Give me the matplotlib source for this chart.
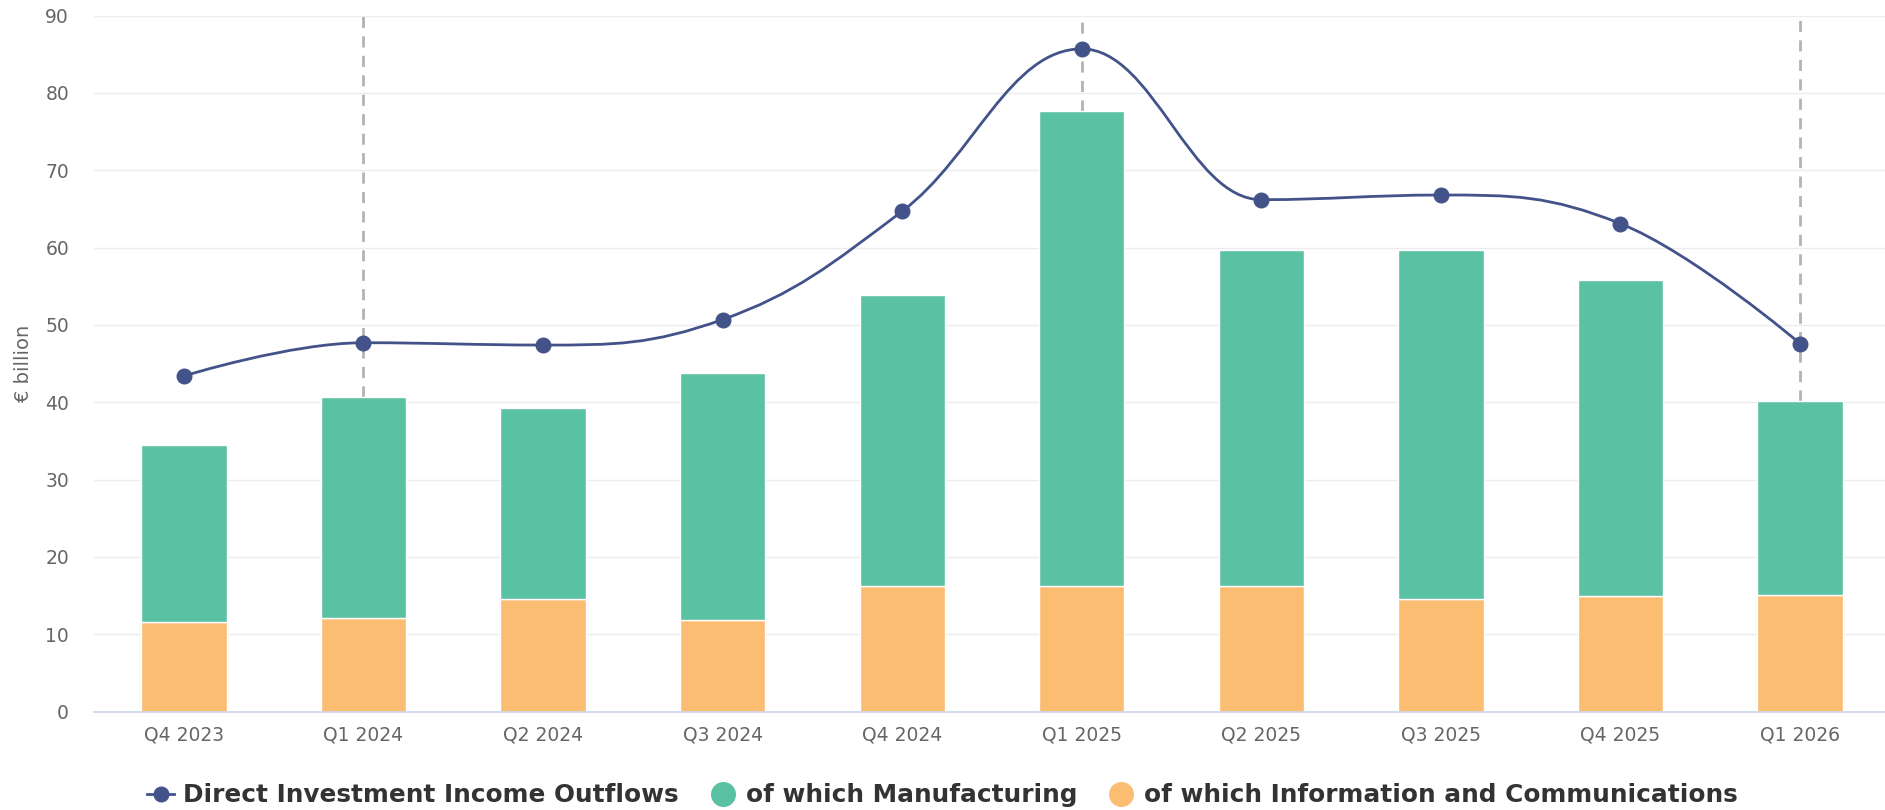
import matplotlib
matplotlib.use("Agg")
import matplotlib.pyplot as plt
from matplotlib.path import Path
from matplotlib.patches import PathPatch
from matplotlib.lines import Line2D
import numpy as np

quarters = ["Q4 2023", "Q1 2024", "Q2 2024", "Q3 2024", "Q4 2024",
            "Q1 2025", "Q2 2025", "Q3 2025", "Q4 2025", "Q1 2026"]
total_outflows = [43.4, 47.7, 47.4, 50.7, 64.7, 85.7, 66.2, 66.8, 63.1, 47.6]
manufacturing = [22.9, 28.6, 24.7, 32.0, 37.6, 61.4, 43.4, 45.2, 40.9, 25.0]
info_comm = [11.6, 12.1, 14.5, 11.8, 16.3, 16.3, 16.3, 14.5, 14.9, 15.1]
year_starts = ["Q1 2024", "Q1 2025", "Q1 2026"]

NAVY = "#43538a"
GREEN = "#5bc1a3"
ORANGE = "#fbbd72"


def spline_path(xs, ys, smoothing=1.5):
    """Smooth curve through the points using neighbour-based Bezier controls."""
    n = len(xs)
    denom = smoothing + 1
    lc = [(x, y) for x, y in zip(xs, ys)]
    rc = [(x, y) for x, y in zip(xs, ys)]
    for i in range(1, n - 1):
        x, y = xs[i], ys[i]
        lx, ly = xs[i - 1], ys[i - 1]
        nx, ny = xs[i + 1], ys[i + 1]
        lcx = (smoothing * x + lx) / denom
        lcy = (smoothing * y + ly) / denom
        rcx = (smoothing * x + nx) / denom
        rcy = (smoothing * y + ny) / denom
        corr = (rcy - lcy) * (rcx - x) / (rcx - lcx) + y - rcy
        lcy += corr
        rcy += corr
        if lcy > ly and lcy > y:
            lcy = max(ly, y)
            rcy = 2 * y - lcy
        elif lcy < ly and lcy < y:
            lcy = min(ly, y)
            rcy = 2 * y - lcy
        if rcy > ny and rcy > y:
            rcy = max(ny, y)
            lcy = 2 * y - rcy
        elif rcy < ny and rcy < y:
            rcy = min(ny, y)
            lcy = 2 * y - rcy
        lc[i] = (lcx, lcy)
        rc[i] = (rcx, rcy)
    verts = [(xs[0], ys[0])]
    codes = [Path.MOVETO]
    for i in range(1, n):
        verts += [rc[i - 1], lc[i], (xs[i], ys[i])]
        codes += [Path.CURVE4] * 3
    return Path(verts, codes)


fig = plt.figure(figsize=(18.85, 8.10), dpi=100)
ax = fig.add_axes([0.0499, 0.1215, 0.9501, 0.8592])

x = np.arange(len(quarters))
bar_w = 0.475

ax.bar(x, info_comm, width=bar_w, color=ORANGE, edgecolor="white",
       linewidth=1.0, zorder=2)
ax.bar(x, manufacturing, width=bar_w, bottom=info_comm, color=GREEN,
       edgecolor="white", linewidth=1.0, zorder=2)

# dashed year markers running from the top of the plot down to the bar top
for q in year_starts:
    i = quarters.index(q)
    top = info_comm[i] + manufacturing[i]
    ax.plot([i, i], [top, 90], color="#b3b3b3", linewidth=2.0,
            linestyle=(0, (4, 3)), zorder=1.5)

ax.add_patch(PathPatch(spline_path(list(x), total_outflows), facecolor="none",
                       edgecolor=NAVY, linewidth=2.0, zorder=3))
ax.plot(x, total_outflows, linestyle="none", marker="o", markersize=10.5,
        color=NAVY, zorder=4)

ax.set_xlim(-0.5, 9.473)
ax.set_ylim(0, 90)
ax.set_yticks(np.arange(0, 91, 10))
ax.set_xticks(x)
ax.set_xticklabels(quarters)
ax.grid(axis="y", color="#ececec", linewidth=1.0, zorder=0)
ax.set_axisbelow(True)
for side in ("top", "right", "left"):
    ax.spines[side].set_visible(False)
ax.spines["bottom"].set_color("#ccd6eb")
ax.spines["bottom"].set_linewidth(1.2)
ax.tick_params(axis="y", length=0, labelsize=13.5, labelcolor="#666666", pad=18)
ax.tick_params(axis="x", length=0, labelsize=13.5, labelcolor="#666666", pad=10)
ax.set_ylabel("€ billion", fontsize=14, color="#666666")
ax.yaxis.set_label_coords(-0.034, 0.5)

handles = [
    Line2D([0], [0], color=NAVY, linewidth=2.0, marker="o", markersize=10.5),
    Line2D([0], [0], color=GREEN, linestyle="none", marker="o", markersize=17),
    Line2D([0], [0], color=ORANGE, linestyle="none", marker="o", markersize=17),
]
labels = ["Direct Investment Income Outflows", "of which Manufacturing",
          "of which Information and Communications"]
fig.legend(handles, labels, loc="center", bbox_to_anchor=(0.5, 0.018),
           ncol=3, frameon=False, handlelength=1.1, handletextpad=0.36,
           columnspacing=1.24, prop={"size": 17.8, "weight": "bold"},
           labelcolor="#333333")

fig.savefig("out.png", dpi=100, facecolor="white")
